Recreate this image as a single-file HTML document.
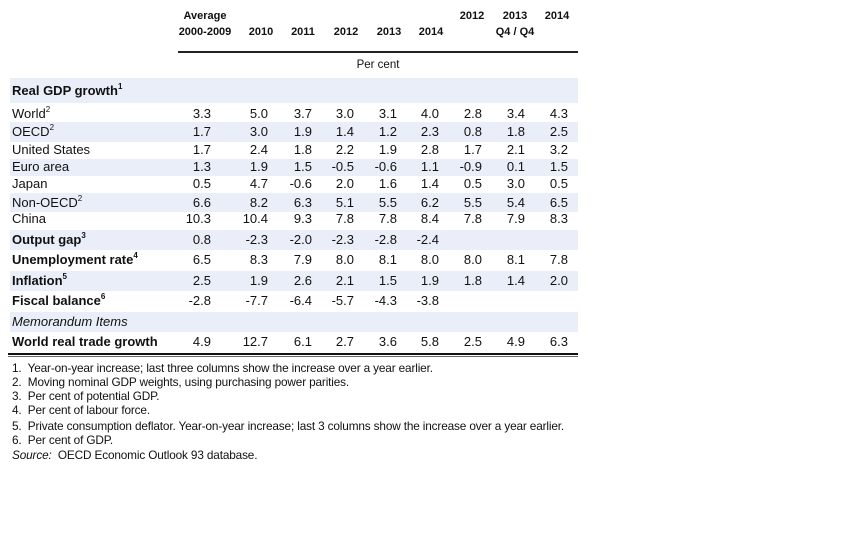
<!DOCTYPE html>
<html><head><meta charset="utf-8"><style>
body{margin:0;width:864px;height:540px;background:#fff;position:relative;overflow:hidden;font-family:"Liberation Sans",Arial,sans-serif;color:#111}
.a{position:absolute}
.band{position:absolute;left:10px;width:568px;background:#e9eef8}
.h{position:absolute;font-size:11px;font-weight:bold;width:80px;text-align:center;line-height:12px}
.r{position:absolute;left:0;width:864px;height:16px;line-height:16px;font-size:13px}
.r .l{position:absolute;left:12px;white-space:nowrap}
.r b{font-weight:bold}
.r span.c{position:absolute;width:50px;text-align:right}
sup{font-size:8px;line-height:0;position:relative;top:-1px}
.fn{position:absolute;left:12px;font-size:11.8px;line-height:13px;white-space:nowrap;letter-spacing:-0.15px}
</style></head><body>
<div class="band" style="top:78px;height:25px"></div>
<div class="band" style="top:122px;height:20px"></div>
<div class="band" style="top:159px;height:17px"></div>
<div class="band" style="top:193px;height:19px"></div>
<div class="band" style="top:230px;height:20px"></div>
<div class="band" style="top:271px;height:20px"></div>
<div class="band" style="top:312px;height:20px"></div>

<div class="h" style="left:165px;top:10px">Average</div>
<div class="h" style="left:165px;top:26px">2000-2009</div>
<div class="h" style="left:221px;top:26px">2010</div>
<div class="h" style="left:263px;top:26px">2011</div>
<div class="h" style="left:306px;top:26px">2012</div>
<div class="h" style="left:349px;top:26px">2013</div>
<div class="h" style="left:391px;top:26px">2014</div>
<div class="h" style="left:432px;top:10px">2012</div>
<div class="h" style="left:475px;top:10px">2013</div>
<div class="h" style="left:517px;top:10px">2014</div>
<div class="h" style="left:475px;top:26px">Q4 / Q4</div>
<div class="a" style="left:178px;top:51px;width:400px;height:2px;background:#222"></div>
<div class="a" style="left:338px;top:59px;width:80px;text-align:center;font-size:11.5px">Per cent</div>

<div class="r" style="top:83px"><span class="l"><b>Real GDP growth</b><sup><b>1</b></sup></span></div>

<div class="r" style="top:106px"><span class="l">World<sup>2</sup></span><span class="c" style="left:161px">3.3</span><span class="c" style="left:218px">5.0</span><span class="c" style="left:262px">3.7</span><span class="c" style="left:304px">3.0</span><span class="c" style="left:347px">3.1</span><span class="c" style="left:389px">4.0</span><span class="c" style="left:432px">2.8</span><span class="c" style="left:475px">3.4</span><span class="c" style="left:518px">4.3</span></div>
<div class="r" style="top:124px"><span class="l">OECD<sup>2</sup></span><span class="c" style="left:161px">1.7</span><span class="c" style="left:218px">3.0</span><span class="c" style="left:262px">1.9</span><span class="c" style="left:304px">1.4</span><span class="c" style="left:347px">1.2</span><span class="c" style="left:389px">2.3</span><span class="c" style="left:432px">0.8</span><span class="c" style="left:475px">1.8</span><span class="c" style="left:518px">2.5</span></div>
<div class="r" style="top:142px"><span class="l">United States</span><span class="c" style="left:161px">1.7</span><span class="c" style="left:218px">2.4</span><span class="c" style="left:262px">1.8</span><span class="c" style="left:304px">2.2</span><span class="c" style="left:347px">1.9</span><span class="c" style="left:389px">2.8</span><span class="c" style="left:432px">1.7</span><span class="c" style="left:475px">2.1</span><span class="c" style="left:518px">3.2</span></div>
<div class="r" style="top:159px"><span class="l">Euro area</span><span class="c" style="left:161px">1.3</span><span class="c" style="left:218px">1.9</span><span class="c" style="left:262px">1.5</span><span class="c" style="left:304px">-0.5</span><span class="c" style="left:347px">-0.6</span><span class="c" style="left:389px">1.1</span><span class="c" style="left:432px">-0.9</span><span class="c" style="left:475px">0.1</span><span class="c" style="left:518px">1.5</span></div>
<div class="r" style="top:176px"><span class="l">Japan</span><span class="c" style="left:161px">0.5</span><span class="c" style="left:218px">4.7</span><span class="c" style="left:262px">-0.6</span><span class="c" style="left:304px">2.0</span><span class="c" style="left:347px">1.6</span><span class="c" style="left:389px">1.4</span><span class="c" style="left:432px">0.5</span><span class="c" style="left:475px">3.0</span><span class="c" style="left:518px">0.5</span></div>
<div class="r" style="top:195px"><span class="l">Non-OECD<sup>2</sup></span><span class="c" style="left:161px">6.6</span><span class="c" style="left:218px">8.2</span><span class="c" style="left:262px">6.3</span><span class="c" style="left:304px">5.1</span><span class="c" style="left:347px">5.5</span><span class="c" style="left:389px">6.2</span><span class="c" style="left:432px">5.5</span><span class="c" style="left:475px">5.4</span><span class="c" style="left:518px">6.5</span></div>
<div class="r" style="top:211px"><span class="l">China</span><span class="c" style="left:161px">10.3</span><span class="c" style="left:218px">10.4</span><span class="c" style="left:262px">9.3</span><span class="c" style="left:304px">7.8</span><span class="c" style="left:347px">7.8</span><span class="c" style="left:389px">8.4</span><span class="c" style="left:432px">7.8</span><span class="c" style="left:475px">7.9</span><span class="c" style="left:518px">8.3</span></div>
<div class="r" style="top:232px"><span class="l"><b>Output gap</b><sup><b>3</b></sup></span><span class="c" style="left:161px">0.8</span><span class="c" style="left:218px">-2.3</span><span class="c" style="left:262px">-2.0</span><span class="c" style="left:304px">-2.3</span><span class="c" style="left:347px">-2.8</span><span class="c" style="left:389px">-2.4</span></div>
<div class="r" style="top:252px"><span class="l"><b>Unemployment rate</b><sup><b>4</b></sup></span><span class="c" style="left:161px">6.5</span><span class="c" style="left:218px">8.3</span><span class="c" style="left:262px">7.9</span><span class="c" style="left:304px">8.0</span><span class="c" style="left:347px">8.1</span><span class="c" style="left:389px">8.0</span><span class="c" style="left:432px">8.0</span><span class="c" style="left:475px">8.1</span><span class="c" style="left:518px">7.8</span></div>
<div class="r" style="top:273px"><span class="l"><b>Inflation</b><sup><b>5</b></sup></span><span class="c" style="left:161px">2.5</span><span class="c" style="left:218px">1.9</span><span class="c" style="left:262px">2.6</span><span class="c" style="left:304px">2.1</span><span class="c" style="left:347px">1.5</span><span class="c" style="left:389px">1.9</span><span class="c" style="left:432px">1.8</span><span class="c" style="left:475px">1.4</span><span class="c" style="left:518px">2.0</span></div>
<div class="r" style="top:293px"><span class="l"><b>Fiscal balance</b><sup><b>6</b></sup></span><span class="c" style="left:161px">-2.8</span><span class="c" style="left:218px">-7.7</span><span class="c" style="left:262px">-6.4</span><span class="c" style="left:304px">-5.7</span><span class="c" style="left:347px">-4.3</span><span class="c" style="left:389px">-3.8</span></div>
<div class="r" style="top:314px"><span class="l"><i>Memorandum Items</i></span></div>
<div class="r" style="top:334px"><span class="l"><b>World real trade growth</b></span><span class="c" style="left:161px">4.9</span><span class="c" style="left:218px">12.7</span><span class="c" style="left:262px">6.1</span><span class="c" style="left:304px">2.7</span><span class="c" style="left:347px">3.6</span><span class="c" style="left:389px">5.8</span><span class="c" style="left:432px">2.5</span><span class="c" style="left:475px">4.9</span><span class="c" style="left:518px">6.3</span></div>

<div class="a" style="left:8px;top:353px;width:570px;height:2px;background:#111"></div>
<div class="a" style="left:8px;top:356px;width:570px;height:1px;background:#666"></div>

<div class="fn" style="top:362px">1.&nbsp; Year-on-year increase; last three columns show the increase over a year earlier.</div>
<div class="fn" style="top:376px">2.&nbsp; Moving nominal GDP weights, using purchasing power parities.</div>
<div class="fn" style="top:390px">3.&nbsp; Per cent of potential GDP.</div>
<div class="fn" style="top:404px">4.&nbsp; Per cent of labour force.</div>
<div class="fn" style="top:420px">5.&nbsp; Private consumption deflator. Year-on-year increase; last 3 columns show the increase over a year earlier.</div>
<div class="fn" style="top:434px">6.&nbsp; Per cent of GDP.</div>
<div class="fn" style="top:449px"><i>Source:</i>&nbsp; OECD Economic Outlook 93 database.</div>
</body></html>
